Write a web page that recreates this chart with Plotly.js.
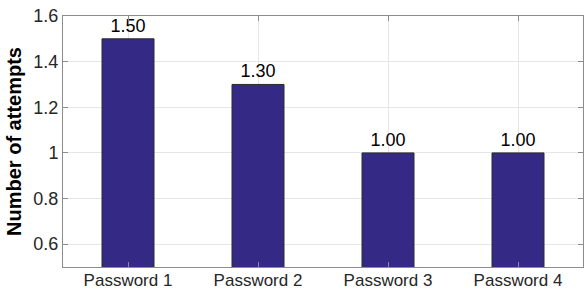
<!DOCTYPE html>
<html><head><meta charset="utf-8">
<script src="https://cdn.plot.ly/plotly-3.0.1.min.js"></script>
<style>body{margin:0;padding:0;background:#fff}#chart{width:584px;height:292px}</style>
</head><body><div id="chart"></div>
<script>
const categories = ["Password 1", "Password 2", "Password 3", "Password 4"];
const attempts = [1.50, 1.30, 1.00, 1.00];
const yTitle = "Number of attempts";

const trace = {
  type: "bar",
  x: categories,
  y: attempts,
  width: 0.4,
  marker: {color: "#342a86", line: {color: "#2a2a2a", width: 1}},
  text: attempts.map(v => v.toFixed(2)),
  textposition: "outside",
  cliponaxis: false,
  textfont: {family: "Liberation Sans, Arial, sans-serif", size: 18, color: "#000"},
  hoverinfo: "none"
};

const layout = {
  width: 584, height: 292,
  margin: {l: 63, r: 1, t: 16, b: 25},
  paper_bgcolor: "#fff", plot_bgcolor: "#fff",
  showlegend: false,
  font: {family: "Liberation Sans, Arial, sans-serif", size: 18, color: "#262626"},
  xaxis: {
    type: "category", range: [-0.5, 3.5],
    showline: true, linecolor: "#8c8c8c", linewidth: 1, mirror: "ticks",
    ticks: "inside", ticklen: 5, tickcolor: "#8c8c8c",
    showgrid: true, gridcolor: "#e6e6e6",
    ticklabelstandoff: -2,
    tickfont: {size: 17, color: "#262626"}
  },
  yaxis: {
    range: [0.5, 1.6], dtick: 0.2, tick0: 0.6,
    showline: true, linecolor: "#8c8c8c", linewidth: 1, mirror: "ticks",
    ticks: "inside", ticklen: 5, tickcolor: "#8c8c8c",
    showgrid: true, gridcolor: "#e6e6e6", zeroline: false,
    tickfont: {size: 18, color: "#262626"},
    title: {text: yTitle, font: {size: 20, color: "#000", weight: "bold"}, standoff: 6}
  },
  bargap: 0.6
};

Plotly.newPlot("chart", [trace], layout, {staticPlot: true, displayModeBar: false});
</script></body></html>
